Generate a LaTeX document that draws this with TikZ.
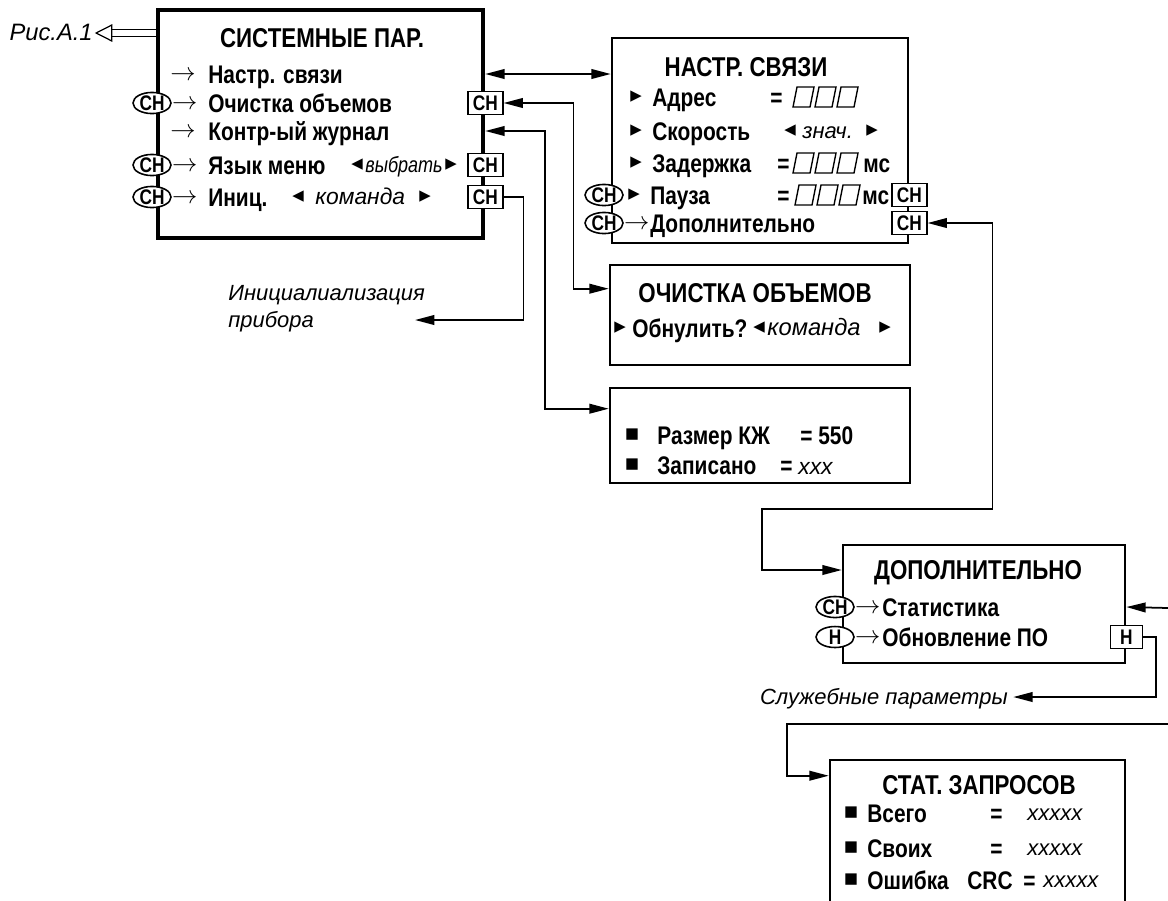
\documentclass[tikz,border=0pt]{standalone}
\usepackage{fontspec}
\setmainfont{Liberation Sans}
\newfontfamily\narrowfont[FakeStretch=0.82]{Liberation Sans}
\newfontfamily\trifont{DejaVu Sans}
\usetikzlibrary{arrows.meta, positioning, shapes.geometric, calc}

\begin{document}
\begin{tikzpicture}[
    x=0.02cm, y=-0.02cm,
    panel/.style={draw, line width=1.5pt, inner sep=0pt},
    mainpanel/.style={panel, line width=2.6pt},
    ttl/.style={font=\narrowfont\fontsize{15.5}{17}\selectfont\bfseries, inner sep=0pt, text height=11pt, text depth=0pt},
    item/.style={font=\narrowfont\fontsize{14.5}{16}\selectfont\bfseries, inner sep=0pt, anchor=west, text height=10.4pt, text depth=0pt},
    val/.style={font=\fontsize{12.5}{15}\selectfont\itshape, inner sep=0pt, anchor=west, text height=9pt, text depth=0pt},
    note/.style={font=\fontsize{12.5}{15}\selectfont\itshape, inner sep=0pt, text height=9pt, text depth=0pt},
    tri/.style={font={\trifont\fontsize{13}{15}\selectfont}, inner sep=0pt},
    goes/.style={font=\fontsize{14}{16}\selectfont, inner sep=0pt, anchor=west, text height=7pt, text depth=0pt},
    modeoval/.style={draw, ellipse, fill=white, line width=0.9pt, inner sep=0pt, minimum width=0.76cm, minimum height=0.42cm, font=\narrowfont\fontsize{12}{13}\selectfont\bfseries},
    keybox/.style={draw, fill=white, line width=0.9pt, inner sep=0pt, minimum width=0.7cm, minimum height=0.46cm, font=\narrowfont\fontsize{12}{13}\selectfont\bfseries},
    digit/.style={line width=0.8pt},
    arr/.style={-{Triangle[length=11pt, width=5.5pt]}, line width=1pt},
    biarr/.style={{Triangle[length=11pt, width=5.5pt]}-{Triangle[length=11pt, width=5.5pt]}, line width=1pt},
]
\useasboundingbox (0,0) rectangle (1168,900);
\clip (0,0) rectangle (1168,900);

% --- Panels ---
\node[mainpanel, minimum width=6.5cm, minimum height=4.56cm] (sys) at (320.5,124) {};
\node[panel, minimum width=5.92cm, minimum height=4.1cm] (link) at (760,140.5) {};
\node[panel, minimum width=6cm, minimum height=2cm] (clr) at (760,315) {};
\node[panel, minimum width=6cm, minimum height=1.9cm] (jrn) at (760,435.5) {};
\node[panel, minimum width=5.64cm, minimum height=2.36cm] (dop) at (984,604) {};
\node[panel, minimum width=5.9cm, minimum height=3.2cm] (stat) at (977.5,840) {};

% --- Системные пар. ---
\node[note, anchor=east, font=\fontsize{13.5}{15}\selectfont\itshape] (figref) at (93,33) {Рис.А.1};
\node[ttl] (systtl) at (322,38) {СИСТЕМНЫЕ ПАР.};
\node[item] (sys1) at (208,74) {Настр. связи};
\node[item] (sys2) at (208,103) {Очистка объемов};
\node[item] (sys3) at (208,131) {Контр-ый журнал};
\node[item] (sys4) at (208,165) {Язык меню};
\node[tri] (sysl4) at (357,165) {◂};
\node[val, font=\narrowfont\fontsize{12.5}{15}\selectfont\itshape] (sysv4) at (365,165) {выбрать};
\node[tri] (sysr4) at (451,165) {▸};
\node[item] (sys5) at (208,197) {Иниц.};
\node[tri] (sysl5) at (298,197) {◂};
\node[val, font=\fontsize{13}{15}\selectfont\itshape] (sysv5) at (315,197) {команда};
\node[tri] (sysr5) at (425,197) {▸};
\node[goes] (sysgo1) at (170,74) {$\rightarrow$};
\node[goes] (sysgo3) at (170,131) {$\rightarrow$};
\node[modeoval] (sysmode2) at (152,103) {СН};
\node[goes] (sysgo2) at (sysmode2.east) {$\rightarrow$};
\node[modeoval] (sysmode4) at (152,165) {СН};
\node[goes] (sysgo4) at (sysmode4.east) {$\rightarrow$};
\node[modeoval] (sysmode5) at (152,197) {СН};
\node[goes] (sysgo5) at (sysmode5.east) {$\rightarrow$};
\node[keybox] (sqclr) at (sys.east |- sys2) {СН};
\node[keybox] (sqlang) at (sys.east |- sys4) {СН};
\node[keybox] (sqinit) at (sys.east |- sys5) {СН};

% --- Настр. связи ---
\node[ttl] (linkttl) at (746,67) {НАСТР. СВЯЗИ};
\node[tri] (linktri1) at (636,97) {▸};
\node[item] (link1) at (652,97) {Адрес};
\node[item] (linkeq1) at (770,97) {=};
\node[tri] (linktri2) at (636,131) {▸};
\node[item] (link2) at (652,131) {Скорость};
\node[tri] (linkl2) at (790,131) {◂};
\node[val] (linkv2) at (802,131) {знач.};
\node[tri] (linkr2) at (872,131) {▸};
\node[tri] (linktri3) at (636,163) {▸};
\node[item] (link3) at (652,163) {Задержка};
\node[item] (linkeq3) at (777,163) {=};
\node[item] (linkms3) at (863,163) {мс};
\node[modeoval] (linkmode4) at (604,195) {СН};
\node[tri] (linktri4) at (634,195) {▸};
\node[item] (link4) at (650,195) {Пауза};
\node[item] (linkeq4) at (777,195) {=};
\node[item] (linkms4) at (862,195) {мс};
\node[keybox] (sqpause) at (link.east |- link4) {СН};
\node[modeoval] (linkmode5) at (604,223) {СН};
\node[goes] (linkgo5) at (linkmode5.east) {$\rightarrow$};
\node[item] (link5) at (650,223) {Дополнительно};
\node[keybox] (sqext) at (link.east |- link5) {СН};
\foreach \yy/\xx in {97/793, 163/793, 195/795}
  \foreach \dx in {0,22,44}
    \draw[digit] (\xx+\dx,\yy+10) -- ++(17,0) -- ++(4,-20) -- ++(-17,0) -- cycle;

% --- Очистка объемов ---
\node[ttl] (clrttl) at (755,293) {ОЧИСТКА ОБЪЕМОВ};
\node[tri] (clrtri) at (620,328) {▸};
\node[item] (clr1) at (632,328) {Обнулить?};
\node[tri] (clrl) at (759,328) {◂};
\node[val, font=\fontsize{13.5}{15}\selectfont\itshape] (clrv) at (767,328) {команда};
\node[tri] (clrr) at (885,328) {▸};

% --- Контрольный журнал ---
\node[tri] (jrnb1) at (632,435) {▪};
\node[item] (jrn1) at (657,435) {Размер КЖ};
\node[item] (jrneq1) at (800,435) {= 550};
\node[tri] (jrnb2) at (632,465) {▪};
\node[item] (jrn2) at (657,465) {Записано};
\node[item] (jrneq2) at (780,465) {= {\normalfont\fontsize{13}{15}\selectfont\itshape xxx}};

% --- Дополнительно ---
\node[ttl] (dopttl) at (978,570) {ДОПОЛНИТЕЛЬНО};
\node[modeoval] (dopmode1) at (835,607) {СН};
\node[goes] (dopgo1) at (dopmode1.east) {$\rightarrow$};
\node[item] (dop1) at (882,607) {Статистика};
\node[modeoval] (dopmode2) at (835,637) {Н};
\node[goes] (dopgo2) at (dopmode2.east) {$\rightarrow$};
\node[item] (dop2) at (882,637) {Обновление ПО};
\node[keybox, minimum width=0.64cm] (squpd) at (dop.east |- dop2) {Н};
\node[note, anchor=east] (svclbl) at (1008,697) {Служебные параметры};

% --- Стат. запросов ---
\node[ttl] (statttl) at (979,785) {СТАТ. ЗАПРОСОВ};
\node[tri] (statb1) at (851,813) {▪};
\node[item] (stat1) at (867,813) {Всего};
\node[item] (stateq1) at (990,813) {=};
\node[val] (statv1) at (1027,813) {xxxxx};
\node[tri] (statb2) at (851,848) {▪};
\node[item] (stat2) at (867,848) {Своих};
\node[item] (stateq2) at (990,848) {=};
\node[val] (statv2) at (1027,848) {xxxxx};
\node[tri] (statb3) at (851,880) {▪};
\node[item] (stat3) at (867,880) {Ошибка};
\node[item] (statcrc) at (967,880) {CRC};
\node[item] (stateq3) at (1023,880) {=};
\node[val] (statv3) at (1043,880) {xxxxx};

% --- Инициализация ---
\node[note, anchor=west] (initlbl) at (228,293) {Инициалиализация};
\node[note, anchor=west] (initlbl2) at (228,320) {прибора};
\coordinate (initend) at (415,320);
\coordinate (statin) at (1168,608);
\coordinate (statfrom) at (1168,724);

% --- Connectors ---
\draw[line width=0.7pt, double distance=3pt, -{Triangle[length=10pt, width=10pt, fill=white, line width=0.7pt]}, shorten >=1pt] (sys.west |- figref) -- (figref.east);
\draw[biarr] (sys.east |- sys1) -- (link.west |- sys1);
\draw[biarr] (sqclr.east) -- ++(70,0) |- ($(clr.north west)+(0,25)$);
\draw[biarr] (sys.east |- sys3) -- ++(60,0) |- ($(jrn.north west)+(0,22)$);
\draw[arr] (sqinit.east) -- ++(20,0) |- (initend);
\draw[biarr] (sqext.east) -- ++(65,0) -- ++(0,286) -| ($(dop.west |- dopttl)+(-80,0)$) -- (dop.west |- dopttl);
\draw[arr] (statin) -- (dop.east |- dop1);
\draw[arr, shorten >=3pt] (squpd.east) -- ++(13,0) |- (svclbl.east);
\draw[arr] (statfrom) -| ($(stat.north west)+(-42,17)$) -- ($(stat.north west)+(0,17)$);

\end{tikzpicture}
\end{document}
